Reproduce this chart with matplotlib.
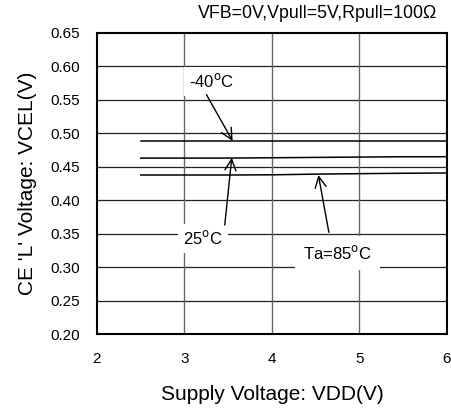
import matplotlib
matplotlib.use("Agg")
import matplotlib.pyplot as plt

plt.rcParams['font.family'] = ['Liberation Sans', 'DejaVu Sans']

vdd = [2.5, 3.0, 3.5, 4.0, 4.5, 5.0, 5.5, 6.0]
vcel_m40 = [0.4885, 0.4885, 0.4885, 0.4885, 0.4885, 0.4885, 0.4885, 0.4885]
vcel_25 = [0.463, 0.463, 0.463, 0.4635, 0.464, 0.4645, 0.465, 0.465]
vcel_85 = [0.4377, 0.4377, 0.4377, 0.438, 0.439, 0.4397, 0.4403, 0.4407]

x_ticks = [2, 3, 4, 5, 6]
y_ticks = [0.20, 0.25, 0.30, 0.35, 0.40, 0.45, 0.50, 0.55, 0.60, 0.65]

fig = plt.figure(figsize=(4.52, 4.16), dpi=100)
ax = fig.add_axes([97/452, 1 - 334/416, 350/452, 301/416])

ax.set_xlim(2, 6)
ax.set_ylim(0.20, 0.65)
ax.set_xticks(x_ticks)
ax.set_yticks(y_ticks)
ax.set_yticklabels(['%.2f' % v for v in y_ticks])
ax.tick_params(length=0, labelsize=11)
ax.tick_params(axis='x', pad=13)
ax.tick_params(axis='y', pad=12)

# grid: horizontal dark, vertical gray
for y in y_ticks[1:-1]:
    ax.axhline(y, color='#222222', lw=0.9, zorder=1)
for x in x_ticks[1:-1]:
    ax.axvline(x, color='#666666', lw=1.0, zorder=1)

for s in ax.spines.values():
    s.set_linewidth(1.5)

for series in (vcel_m40, vcel_25, vcel_85):
    ax.plot(vdd, series, color='black', lw=1.1, zorder=3)

box = dict(facecolor='white', edgecolor='none', pad=4)
arrow = dict(arrowstyle='->', color='black', lw=1.0, mutation_scale=20)
ax.annotate('-40$^{\\rm o}$C', xy=(3.55, 0.4885), xytext=(3.31, 0.578),
            fontsize=12, ha='center', va='center', bbox=box, zorder=4)
ax.annotate('', xy=(3.55, 0.4885), xytext=(3.25, 0.558),
            arrowprops=dict(arrow, shrinkA=0, shrinkB=0), zorder=4)
ax.annotate('25$^{\\rm o}$C', xy=(3.54, 0.4635), xytext=(3.21, 0.3435),
            fontsize=12, ha='center', va='center', bbox=box, zorder=4)
ax.annotate('', xy=(3.54, 0.4635), xytext=(3.46, 0.363),
            arrowprops=dict(arrow, shrinkA=0, shrinkB=0), zorder=4)
ax.annotate('Ta=85$^{\\rm o}$C', xy=(4.53, 0.4377), xytext=(4.75, 0.321),
            fontsize=12, ha='center', va='center', bbox=dict(box, pad=6), zorder=4)
ax.annotate('', xy=(4.53, 0.4377), xytext=(4.65, 0.352),
            arrowprops=dict(arrow, shrinkA=0, shrinkB=0), zorder=4)

fig.text(437/452, 1 - 13/416, 'VFB=0V,Vpull=5V,Rpull=100\u03a9',
         ha='right', va='center', fontsize=12.8)
ax.set_xlabel('Supply Voltage: VDD(V)', fontsize=15, labelpad=14)
ax.set_ylabel("CE 'L' Voltage: VCEL(V)", fontsize=15, labelpad=10)

fig.savefig('out.png', dpi=100)
